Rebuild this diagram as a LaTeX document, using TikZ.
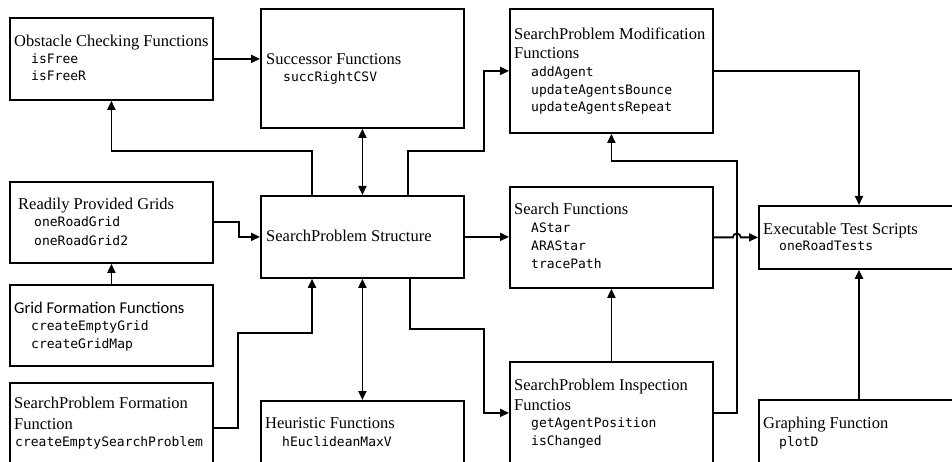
\documentclass[tikz,border=0pt]{standalone}
\usepackage{fontspec}
\setmainfont{Liberation Serif}
\newfontfamily\codefont{DejaVu Sans Mono}
\newfontfamily\calfont{Carlito}
\usetikzlibrary{arrows.meta}
\begin{document}
\begin{tikzpicture}[x=1pt,y=-1pt,
 box/.style={draw, line width=1.8pt, inner sep=0pt, anchor=north west, minimum width=203pt},
 ttl/.style={anchor=base west, inner sep=0pt, font=\fontsize{16.5}{18}\selectfont},
 cal/.style={anchor=base west, inner sep=0pt, font=\calfont\fontsize{16.5}{18}\selectfont},
 code/.style={anchor=base west, inner sep=0pt, font=\codefont\fontsize{13}{15}\selectfont},
 conn/.style={line width=1.8pt, -{Triangle[length=9pt,width=8pt]}},
 dconn/.style={line width=1.8pt, {Triangle[length=9pt,width=8pt]}-{Triangle[length=9pt,width=8pt]}},
]
\clip (0,0) rectangle (952,462);
\fill[white] (0,0) rectangle (952,462);

% boxes
\node[box, minimum height=82pt]  (obs) at (9,17) {};
\node[box, minimum height=119pt] (suc) at (260,8) {};
\node[box, minimum height=124pt] (mod) at (509,8) {};
\node[box, minimum height=81pt]  (rpg) at (9,181) {};
\node[box, minimum height=82pt]  (sps) at (260,195) {};
\node[box, minimum height=101pt] (srf) at (509,186) {};
\node[box, minimum height=63pt]  (ets) at (758,205) {};
\node[box, minimum height=81pt]  (gff) at (9,284) {};
\node[box, minimum height=90pt]  (spf) at (9,382) {};
\node[box, minimum height=70pt]  (heu) at (260,400) {};
\node[box, minimum height=110pt] (spi) at (509,361) {};
\node[box, minimum height=70pt]  (grf) at (758,399) {};

% texts
\node[ttl]  (obsT)  at (14,47) {Obstacle Checking Functions};
\node[code] (obsC1) at (31,64) {isFree};
\node[code] (obsC2) at (31,81) {isFreeR};

\node[ttl]  (sucT)  at (266,65) {Successor Functions};
\node[code] (sucC1) at (283,82) {succRightCSV};

\node[ttl]  (modT1) at (514,40) {SearchProblem Modification};
\node[ttl]  (modT2) at (514,59) {Functions};
\node[code] (modC1) at (531,77) {addAgent};
\node[code] (modC2) at (531,95) {updateAgentsBounce};
\node[code] (modC3) at (531,112) {updateAgentsRepeat};

\node[ttl]  (rpgT)  at (18,210) {Readily Provided Grids};
\node[code] (rpgC1) at (34,226) {oneRoadGrid};
\node[code] (rpgC2) at (34,245) {oneRoadGrid2};

\node[ttl]  (spsT)  at (266,242) {SearchProblem Structure};

\node[ttl]  (srfT)  at (514,215) {Search Functions};
\node[code] (srfC1) at (531,233) {AStar};
\node[code] (srfC2) at (531,251) {ARAStar};
\node[code] (srfC3) at (531,268) {tracePath};

\node[ttl]  (etsT)  at (763,234) {Executable Test Scripts};
\node[code] (etsC1) at (779,251) {oneRoadTests};

\node[cal]  (gffT)  at (14,313) {Grid Formation Functions};
\node[code] (gffC1) at (31,330) {createEmptyGrid};
\node[code] (gffC2) at (31,348) {createGridMap};

\node[ttl]  (spfT1) at (14,408) {SearchProblem Formation};
\node[ttl]  (spfT2) at (14,429) {Function};
\node[code] (spfC1) at (15,446) {createEmptySearchProblem};

\node[ttl]  (heuT)  at (265,428) {Heuristic Functions};
\node[code] (heuC1) at (282,446) {hEuclideanMaxV};

\node[ttl]  (spiT1) at (514,390) {SearchProblem Inspection};
\node[ttl]  (spiT2) at (514,410) {Functios};
\node[code] (spiC1) at (531,427) {getAgentPosition};
\node[code] (spiC2) at (531,445) {isChanged};

\node[ttl]  (grfT)  at (763,428) {Graphing Function};
\node[code] (grfC1) at (779,446) {plotD};

% connectors
\draw[conn] (obs.east) -- (obs.east -| suc.west);
\draw[dconn] (suc.south) -- (sps.north);
\draw[conn] ([xshift=52pt]sps.north west) -- ++(0,-44) -| (obs.south);
\draw[conn] ([xshift=148pt]sps.north west) -- ++(0,-44) -- ++(76,0) |- (mod.west);
\draw[conn] (rpg.east) -- ++(25,0) |- (sps.west);
\draw[conn] (gff.north) -- (rpg.south);
\draw[conn] (spf.east) -- ++(24,0) -- ++(0,-95) -| ([xshift=52pt]sps.south west);
\draw[dconn] (sps.south) -- (heu.south |- heu.north);
\draw[conn] (sps.east) -- (sps.east -| srf.west);
\draw[conn] ([xshift=150pt]sps.south west) -- ++(0,50) -- ++(74,0) |- ([yshift=4pt]spi.west);
\draw[conn] (spi.north) -- (srf.south);
\draw[conn] ([yshift=4pt]spi.east) -- ++(23,0) -- ++(0,-252) -| (mod.south);
\draw[conn] (srf.east) -- ++(19,0) .. controls ++(0,-5) and ++(0,-5) .. ++(8,0) -- (srf.east -| ets.west);
\draw[conn] (mod.east) -| ([xshift=101pt]ets.north west);
\draw[conn] ([xshift=101pt]grf.north west) -- ([xshift=101pt]ets.south west);
\end{tikzpicture}
\end{document}
